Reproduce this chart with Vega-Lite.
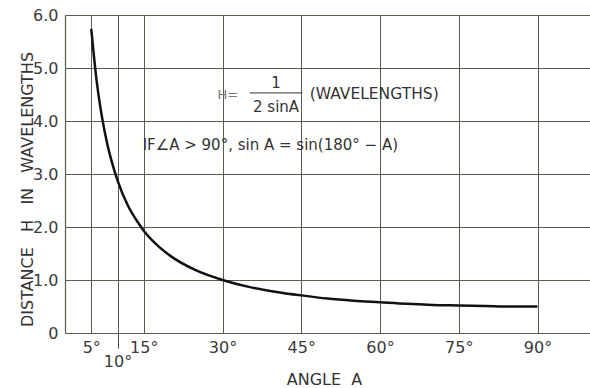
{
  "$schema": "https://vega.github.io/schema/vega-lite/v6.json",
  "width": 525,
  "height": 318,
  "autosize": "none",
  "padding": {"left": 65, "top": 15, "right": 0, "bottom": 55},
  "background": "white",
  "config": {
    "view": {"stroke": null},
    "font": "DejaVu Sans"
  },
  "datasets": {
    "curve": [
      {"angle": 5, "h": 5.74}, {"angle": 6, "h": 4.78}, {"angle": 7, "h": 4.10},
      {"angle": 8, "h": 3.59}, {"angle": 9, "h": 3.20}, {"angle": 10, "h": 2.88},
      {"angle": 12, "h": 2.40}, {"angle": 14, "h": 2.07}, {"angle": 15, "h": 1.93},
      {"angle": 17, "h": 1.71}, {"angle": 20, "h": 1.46}, {"angle": 25, "h": 1.18},
      {"angle": 30, "h": 1.00}, {"angle": 35, "h": 0.87}, {"angle": 40, "h": 0.78},
      {"angle": 45, "h": 0.71}, {"angle": 50, "h": 0.65}, {"angle": 55, "h": 0.61},
      {"angle": 60, "h": 0.58}, {"angle": 65, "h": 0.55}, {"angle": 70, "h": 0.53},
      {"angle": 75, "h": 0.52}, {"angle": 80, "h": 0.51}, {"angle": 85, "h": 0.50},
      {"angle": 90, "h": 0.50}
    ]
  },
  "layer": [
    {
      "data": {"name": "curve"},
      "mark": {"type": "line", "color": "#111", "strokeWidth": 2.5, "interpolate": "monotone"},
      "encoding": {
        "x": {
          "field": "angle", "type": "quantitative",
          "scale": {"domain": [0, 100], "nice": false, "zero": true},
          "axis": {
            "values": [5, 10, 15, 30, 45, 60, 75, 90],
            "labelExpr": "datum.value + '°'",
            "labelOverlap": false, "labelBound": false, "labelFlush": false,
            "grid": true, "gridColor": "#5c5c4c", "gridWidth": 1, "gridOpacity": 1,
            "domainColor": "#5c5c4c", "domainWidth": 1.2,
            "tickColor": "#444",
            "tickSize": {"condition": {"test": "datum.value == 10", "value": 15}, "value": 0},
            "labelPadding": {"condition": {"test": "datum.value == 10", "value": 5}, "value": 6},
            "labelBaseline": "top",
            "labelFontSize": 16, "labelColor": "#3a3a3a", "labelFont": "DejaVu Sans",
            "title": "ANGLE\u00a0 A", "titleFontSize": 16, "titleFontWeight": "normal",
            "titleColor": "#333", "titleFont": "DejaVu Sans",
            "titleX": 259, "titleY": 46, "titleBaseline": "middle", "titleAlign": "center"
          }
        },
        "y": {
          "field": "h", "type": "quantitative",
          "scale": {"domain": [0, 6], "nice": false},
          "axis": {
            "values": [0, 1, 2, 3, 4, 5, 6],
            "labelExpr": "datum.value == 0 ? '0' : format(datum.value, '.1f')",
            "labelOverlap": false, "labelBound": false, "labelFlush": false,
            "grid": true, "gridColor": "#5c5c4c", "gridWidth": 1, "gridOpacity": 1,
            "domainColor": "#5c5c4c", "domainWidth": 1.2,
            "ticks": false, "labelPadding": 7,
            "labelFontSize": 16, "labelColor": "#3a3a3a", "labelFont": "DejaVu Sans",
            "title": "DISTANCE\u00a0\u00a0 H\u00a0\u00a0 IN\u00a0\u00a0 WAVELENGTHS", "titleFontSize": 16, "titleFontWeight": "normal",
            "titleColor": "#333", "titleFont": "DejaVu Sans",
            "titleX": -38, "titleY": 174, "titleBaseline": "middle", "titleAlign": "center", "titleAngle": -90
          }
        }
      }
    },
    {
      "data": {"values": [{"x1": 35.2, "x2": 45.2, "y": 4.53}]},
      "mark": {"type": "rule", "color": "#333", "strokeWidth": 1},
      "encoding": {
        "x": {"field": "x1", "type": "quantitative"},
        "x2": {"field": "x2"},
        "y": {"field": "y", "type": "quantitative"}
      }
    },
    {
      "data": {"values": [{"x": 40.2, "y": 4.72, "t": "1"}, {"x": 40.2, "y": 4.27, "t": "2 sinA"}]},
      "mark": {"type": "text", "fontSize": 15, "color": "#333", "align": "center", "baseline": "middle"},
      "encoding": {
        "x": {"field": "x", "type": "quantitative"},
        "y": {"field": "y", "type": "quantitative"},
        "text": {"field": "t"}
      }
    },
    {
      "data": {"values": [{"x": 31.0, "y": 4.5, "t": "H="}]},
      "mark": {"type": "text", "fontSize": 13, "color": "#777", "align": "center", "baseline": "middle"},
      "encoding": {
        "x": {"field": "x", "type": "quantitative"},
        "y": {"field": "y", "type": "quantitative"},
        "text": {"field": "t"}
      }
    },
    {
      "data": {"values": [{"x": 46.6, "y": 4.51, "t": "(WAVELENGTHS)"}]},
      "mark": {"type": "text", "fontSize": 15.5, "color": "#333", "align": "left", "baseline": "middle"},
      "encoding": {
        "x": {"field": "x", "type": "quantitative"},
        "y": {"field": "y", "type": "quantitative"},
        "text": {"field": "t"}
      }
    },
    {
      "data": {"values": [{"x": 14.8, "y": 3.55, "t": "IF∠A > 90°, sin A = sin(180° − A)"}]},
      "mark": {"type": "text", "fontSize": 15, "color": "#333", "align": "left", "baseline": "middle"},
      "encoding": {
        "x": {"field": "x", "type": "quantitative"},
        "y": {"field": "y", "type": "quantitative"},
        "text": {"field": "t"}
      }
    }
  ]
}
